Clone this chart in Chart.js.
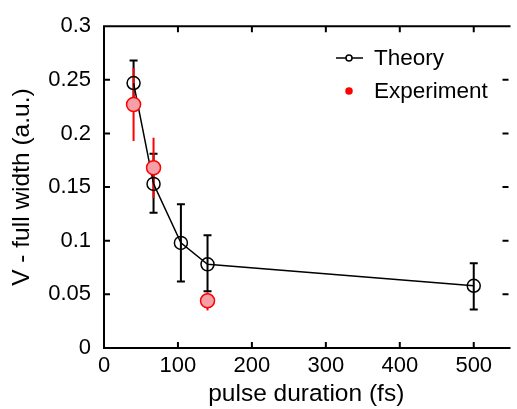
<!DOCTYPE html>
<html>
<head>
<meta charset="utf-8">
<script src="https://cdn.jsdelivr.net/npm/chart.js@4/dist/chart.umd.min.js"></script>
<style>
  html, body { margin: 0; padding: 0; background: #fff; }
  #wrap { width: 517px; height: 409px; }
</style>
</head>
<body>
<div id="wrap"><canvas id="chart" width="517" height="409"></canvas></div>
<script>
// Axis ticks
const xTicks = [0, 100, 200, 300, 400, 500];
const yTicks = [0, 0.05, 0.1, 0.15, 0.2, 0.25, 0.3];

// Theory (black, hollow circles, joined)
const theoryX = [40, 67, 104, 140, 500];
const theoryY = [0.247, 0.153, 0.098, 0.078, 0.058];
const theoryLow = [0.227, 0.126, 0.062, 0.053, 0.036];
const theoryHigh = [0.268, 0.181, 0.134, 0.105, 0.079];

// Experiment (red filled circles)
const expX = [40, 67, 140];
const expY = [0.227, 0.168, 0.044];
const expLow = [0.193, 0.140, 0.035];
const expHigh = [0.261, 0.196, 0.052];

const FONT = '"Liberation Sans", Arial, sans-serif';

function toPoints(xs, ys) {
    return xs.map((x, i) => ({ x: x, y: ys[i] }));
}

// Error bars, frame with inward ticks, and legend
const extras = {
    id: 'extras',
    beforeDatasetsDraw(chart) {
        const ctx = chart.ctx;
        const xs = chart.scales.x, ys = chart.scales.y;
        chart.data.datasets.forEach(ds => {
            ctx.save();
            ctx.strokeStyle = ds.errColor;
            ctx.lineWidth = 2;
            ds.data.forEach((p, i) => {
                const px = xs.getPixelForValue(p.x);
                const top = ys.getPixelForValue(ds.errHigh[i]);
                const bot = ys.getPixelForValue(ds.errLow[i]);
                ctx.beginPath();
                ctx.moveTo(px, top);
                ctx.lineTo(px, bot);
                if (ds.errCap) {
                    ctx.moveTo(px - ds.errCap, top);
                    ctx.lineTo(px + ds.errCap, top);
                    ctx.moveTo(px - ds.errCap, bot);
                    ctx.lineTo(px + ds.errCap, bot);
                }
                ctx.stroke();
            });
            ctx.restore();
        });
    },
    afterDraw(chart) {
        const ctx = chart.ctx;
        const a = chart.chartArea;
        const xs = chart.scales.x, ys = chart.scales.y;
        const tick = 6;
        ctx.save();
        ctx.strokeStyle = '#000';
        ctx.lineWidth = 2;
        ctx.beginPath();
        // frame (right edge lies off the canvas)
        ctx.moveTo(a.right + 2, a.top);
        ctx.lineTo(a.left, a.top);
        ctx.lineTo(a.left, a.bottom);
        ctx.lineTo(a.right + 2, a.bottom);
        xTicks.forEach(v => {
            if (v === 0) return;
            const px = xs.getPixelForValue(v);
            ctx.moveTo(px, a.bottom);
            ctx.lineTo(px, a.bottom - tick);
            ctx.moveTo(px, a.top);
            ctx.lineTo(px, a.top + tick);
        });
        yTicks.forEach(v => {
            if (v === 0 || v === 0.3) return;
            const py = ys.getPixelForValue(v);
            ctx.moveTo(a.left, py);
            ctx.lineTo(a.left + tick, py);
            ctx.moveTo(a.right, py);
            ctx.lineTo(a.right - tick, py);
        });
        ctx.stroke();

        // legend
        const lx = 349, textX = 374;
        const rows = [58, 91];
        ctx.font = '22.5px ' + FONT;
        ctx.fillStyle = '#000';
        ctx.textBaseline = 'middle';
        ctx.textAlign = 'left';
        chart.data.datasets.forEach((ds, i) => {
            const y = rows[i];
            if (ds.showLine) {
                ctx.strokeStyle = ds.borderColor;
                ctx.lineWidth = 1.5;
                ctx.beginPath();
                ctx.moveTo(lx - 13, y);
                ctx.lineTo(lx + 14, y);
                ctx.stroke();
            }
            ctx.beginPath();
            ctx.arc(lx, y, 3, 0, Math.PI * 2);
            ctx.fillStyle = ds.showLine ? '#fff' : '#ff0000';
            ctx.fill();
            ctx.strokeStyle = ds.pointBorderColor;
            ctx.lineWidth = 1.5;
            ctx.stroke();
            ctx.fillStyle = '#000';
            ctx.fillText(ds.label, textX, y + 1);
        });
        ctx.restore();
    }
};

const ctx = document.getElementById('chart').getContext('2d');
new Chart(ctx, {
    type: 'scatter',
    data: {
        datasets: [
            {
                label: 'Theory',
                data: toPoints(theoryX, theoryY),
                errLow: theoryLow,
                errHigh: theoryHigh,
                errColor: '#000',
                errCap: 4,
                showLine: true,
                borderColor: '#000',
                borderWidth: 1.5,
                pointRadius: 6.5,
                pointBorderWidth: 1.5,
                pointBorderColor: '#000',
                pointBackgroundColor: 'rgba(0,0,0,0)',
                order: 1
            },
            {
                label: 'Experiment',
                data: toPoints(expX, expY),
                errLow: expLow,
                errHigh: expHigh,
                errColor: '#ff0000',
                errCap: 0,
                showLine: false,
                borderColor: '#ff0000',
                pointRadius: 7,
                pointBorderWidth: 1.5,
                pointBorderColor: '#ff0000',
                pointBackgroundColor: '#f5a0a6',
                order: 0
            }
        ]
    },
    options: {
        responsive: false,
        animation: false,
        devicePixelRatio: 1,
        layout: { padding: { top: 21, right: 0, left: 0, bottom: 0 } },
        plugins: {
            legend: { display: false },
            tooltip: { enabled: false }
        },
        scales: {
            x: {
                type: 'linear',
                min: 0,
                max: 547,
                afterBuildTicks: scale => { scale.ticks = xTicks.map(v => ({ value: v })); },
                afterFit: scale => { scale.height = 61; },
                grid: { display: false, drawTicks: false, tickLength: 0 },
                border: { display: false },
                ticks: {
                    padding: 5,
                    maxRotation: 0,
                    color: '#000',
                    font: { family: FONT, size: 22 }
                },
                title: {
                    display: true,
                    text: 'pulse duration (fs)',
                    color: '#000',
                    font: { family: FONT, size: 24.5 },
                    padding: { top: 0, bottom: 0 }
                }
            },
            y: {
                type: 'linear',
                min: 0,
                max: 0.3,
                afterBuildTicks: scale => { scale.ticks = yTicks.map(v => ({ value: v })); },
                afterFit: scale => { scale.width = 104; },
                grid: { display: false, drawTicks: false, tickLength: 0 },
                border: { display: false },
                ticks: {
                    padding: 13,
                    color: '#000',
                    font: { family: FONT, size: 22 },
                    callback: v => String(Number(v.toFixed(2)))
                },
                title: {
                    display: true,
                    text: 'V - full width (a.u.)',
                    color: '#000',
                    font: { family: FONT, size: 24.5 },
                    padding: { top: 8, bottom: 0 }
                }
            }
        }
    },
    plugins: [extras]
});
</script>
</body>
</html>
